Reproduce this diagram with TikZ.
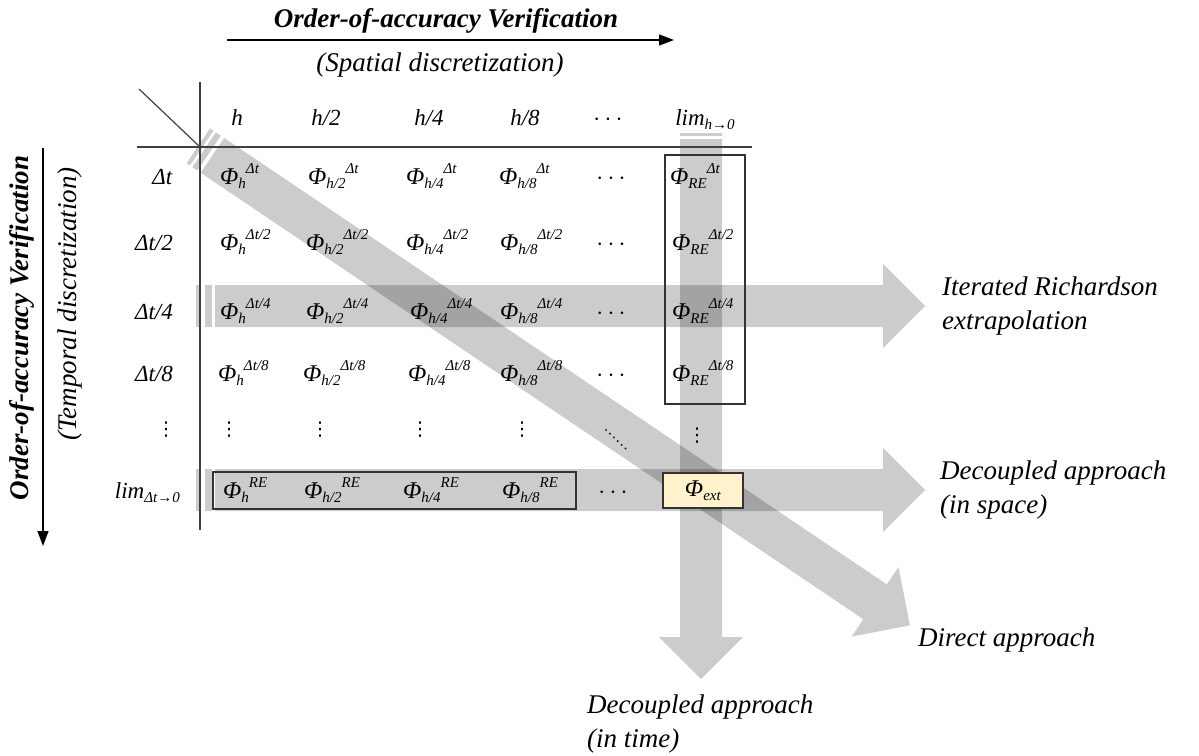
\documentclass[tikz,border=0pt]{standalone}
\usepackage{fontspec}
\setmainfont{Liberation Serif}
\newfontfamily\symfont{DejaVu Sans}
\usetikzlibrary{arrows.meta}

\newcommand\fs[1]{\fontsize{#1}{#1}\selectfont}
% Phi with a subscript followed by a superscript
\newcommand\phic[2]{\textit{Φ}\raisebox{-4pt}{\fs{15}\textit{#1}}\raisebox{11pt}{\fs{15}\textit{#2}}}
\newcommand\limof[1]{\textit{lim}\raisebox{-4pt}{\fs{15}\textit{#1}}}
% body and head of a broad gray arrow running along the local x axis
\newcommand\grayshaft[2]{\fill[band] (#1,-21) -- ({#2-42},-21) -- ({#2-42},-42) -- (#2,0) -- ({#2-42},42) -- ({#2-42},21) -- (#1,21) -- cycle;}
% one stripe of the striped tail
\newcommand\graystripe[2]{\fill[band] (#1,-21) rectangle (#2,21);}

\begin{document}
\begin{tikzpicture}[x=1pt,y=-1pt,
  band/.style={fill=black,fill opacity=0.2},
  rule/.style={draw=black!75,line width=1.2pt},
  axisarrow/.style={draw=black,line width=1.3pt,-{Triangle[length=15pt,width=11pt]}},
  frame/.style={draw=black!80,line width=1.2pt,inner sep=0pt},
  title/.style={font=\fs{27}\bfseries\itshape,inner sep=0pt},
  subtitle/.style={font=\fs{27}\itshape,inner sep=0pt},
  hdr/.style={anchor=base,inner sep=0pt,font=\fs{23}},
  rowl/.style={anchor=base east,inner sep=0pt,font=\fs{23}},
  cellt/.style={anchor=base west,inner sep=0pt,font=\fs{24}},
  dotc/.style={inner sep=0pt,font=\symfont\fs{19}},
  result/.style={inner sep=0pt,font=\fontsize{27}{34}\selectfont\itshape,align=left}]
\useasboundingbox (0,0) rectangle (1199,755);

% anchor points of the grid and of the broad arrows
\coordinate (corner) at (200,147);
\coordinate (iterTail) at (215,306);
\coordinate (spaceTail) at (215,490);
\coordinate (timeTail) at (701,139);

% broad translucent arrows
\begin{scope}[shift={(iterTail)}]
  \graystripe{-19}{-14}\graystripe{-10}{-3}\grayshaft{0}{710}
\end{scope}
\begin{scope}[shift={(spaceTail)}]
  \graystripe{-19}{-14}\graystripe{-10}{-3}\grayshaft{0}{710}
\end{scope}
\begin{scope}[shift={(timeTail)},rotate=-90]
  \graystripe{-6}{-3}\grayshaft{0}{540}
\end{scope}
\begin{scope}[shift={(corner)},rotate=-33.97]
  \graystripe{-2}{2}\graystripe{5}{11}\grayshaft{15}{856}
\end{scope}

% table rules
\coordinate (vTop) at (200,82);
\coordinate (vBot) at (200,530);
\coordinate (hLeft) at (137,147);
\coordinate (hRight) at (752,147);
\coordinate (dStart) at (139,89);
\draw[rule] (vTop) -- (vBot);
\draw[rule] (hLeft) -- (hRight);
\draw[rule] (dStart) -- (corner);

% axis arrows
\coordinate (sTail) at (227,40);
\coordinate (sHead) at (674,40);
\coordinate (tTail) at (43,148);
\coordinate (tHead) at (43,546);
\draw[axisarrow] (sTail) -- (sHead);
\draw[axisarrow] (tTail) -- (tHead);
\node[title,anchor=base] (sTitle) at (446,27) {Order-of-accuracy Verification};
\node[subtitle,anchor=base] (sSub) at (440,71) {(Spatial discretization)};
\node[title,rotate=90] (tTitle) at (22,328) {Order-of-accuracy Verification};
\node[subtitle,rotate=90] (tSub) at (70,304) {(Temporal discretization)};

% boxes
\node[frame,minimum width=80pt,minimum height=249pt] (reBox) at (705,279.5) {};
\node[frame,minimum width=363pt,minimum height=37pt] (limBox) at (394.5,490.5) {};
\node[frame,fill={rgb,255:red,255;green,242;blue,204},minimum width=80pt,minimum height=35pt,font=\fs{24}] (ext) at (703,490.5) {\textit{Φ}\raisebox{-4pt}{\fs{15}\textit{ext}}};

% column headers
\node[hdr] (hh) at (237,125) {\textit{h}};
\node[hdr] (h2) at (326,125) {\textit{h/2}};
\node[hdr] (h4) at (429,125) {\textit{h/4}};
\node[hdr] (h8) at (525,125) {\textit{h/8}};
\node[hdr] (hd) at (608,125) {$\cdots$};
\node[hdr] (hl) at (705,125) {\limof{h→0}};

% row headers
\node[rowl] (t1) at (173,184) {\textit{Δt}};
\node[rowl] (t2) at (173,250) {\textit{Δt/2}};
\node[rowl] (t4) at (173,319) {\textit{Δt/4}};
\node[rowl] (t8) at (173,381) {\textit{Δt/8}};
\node[dotc] (td) at (166,430) {⋮};
\node[rowl] (tl) at (180,498) {\limof{Δt→0}};

% row Δt
\node[cellt] (a11) at (220,184) {\phic{h}{Δt}};
\node[cellt] (a12) at (308,184) {\phic{h/2}{Δt}};
\node[cellt] (a13) at (406,184) {\phic{h/4}{Δt}};
\node[cellt] (a14) at (499,184) {\phic{h/8}{Δt}};
\node[hdr] (a15) at (611,184) {$\cdots$};
\node[cellt] (a16) at (670,184) {\phic{RE}{Δt}};
% row Δt/2
\node[cellt] (a21) at (220,250) {\phic{h}{Δt/2}};
\node[cellt] (a22) at (306,250) {\phic{h/2}{Δt/2}};
\node[cellt] (a23) at (406,250) {\phic{h/4}{Δt/2}};
\node[cellt] (a24) at (500,250) {\phic{h/8}{Δt/2}};
\node[hdr] (a25) at (611,250) {$\cdots$};
\node[cellt] (a26) at (672,250) {\phic{RE}{Δt/2}};
% row Δt/4
\node[cellt] (a31) at (220,319) {\phic{h}{Δt/4}};
\node[cellt] (a32) at (306,319) {\phic{h/2}{Δt/4}};
\node[cellt] (a33) at (410,319) {\phic{h/4}{Δt/4}};
\node[cellt] (a34) at (500,319) {\phic{h/8}{Δt/4}};
\node[hdr] (a35) at (611,319) {$\cdots$};
\node[cellt] (a36) at (672,319) {\phic{RE}{Δt/4}};
% row Δt/8
\node[cellt] (a41) at (218,381) {\phic{h}{Δt/8}};
\node[cellt] (a42) at (303,381) {\phic{h/2}{Δt/8}};
\node[cellt] (a43) at (408,381) {\phic{h/4}{Δt/8}};
\node[cellt] (a44) at (500,381) {\phic{h/8}{Δt/8}};
\node[hdr] (a45) at (611,381) {$\cdots$};
\node[cellt] (a46) at (672,381) {\phic{RE}{Δt/8}};
% continuation row
\node[dotc] (a51) at (229,430) {⋮};
\node[dotc] (a52) at (320,430) {⋮};
\node[dotc] (a53) at (420,430) {⋮};
\node[dotc] (a54) at (522,430) {⋮};
\coordinate (diagDots) at (606,430);
\foreach \k in {0,...,5}
  \fill[black!85] ([shift={(3.9*\k,3.7*\k)}]diagDots) circle (1.15);
\node[dotc] (a56) at (697,436) {⋮};
% limit row
\node[cellt] (a61) at (223,498) {\phic{h}{RE}};
\node[cellt] (a62) at (304,498) {\phic{h/2}{RE}};
\node[cellt] (a63) at (403,498) {\phic{h/4}{RE}};
\node[cellt] (a64) at (502,498) {\phic{h/8}{RE}};
\node[hdr] (a65) at (613,498) {$\cdots$};

% outcomes of the broad arrows
\node[result,anchor=west] (iter) at (942,306) {Iterated Richardson\\extrapolation};
\node[result,anchor=west] (dspace) at (940,490) {Decoupled approach\\(in space)};
\node[result,anchor=base west] (direct) at (918,646) {Direct approach};
\node[result,anchor=west] (dtime) at (587,724) {Decoupled approach\\(in time)};
\end{tikzpicture}
\end{document}
